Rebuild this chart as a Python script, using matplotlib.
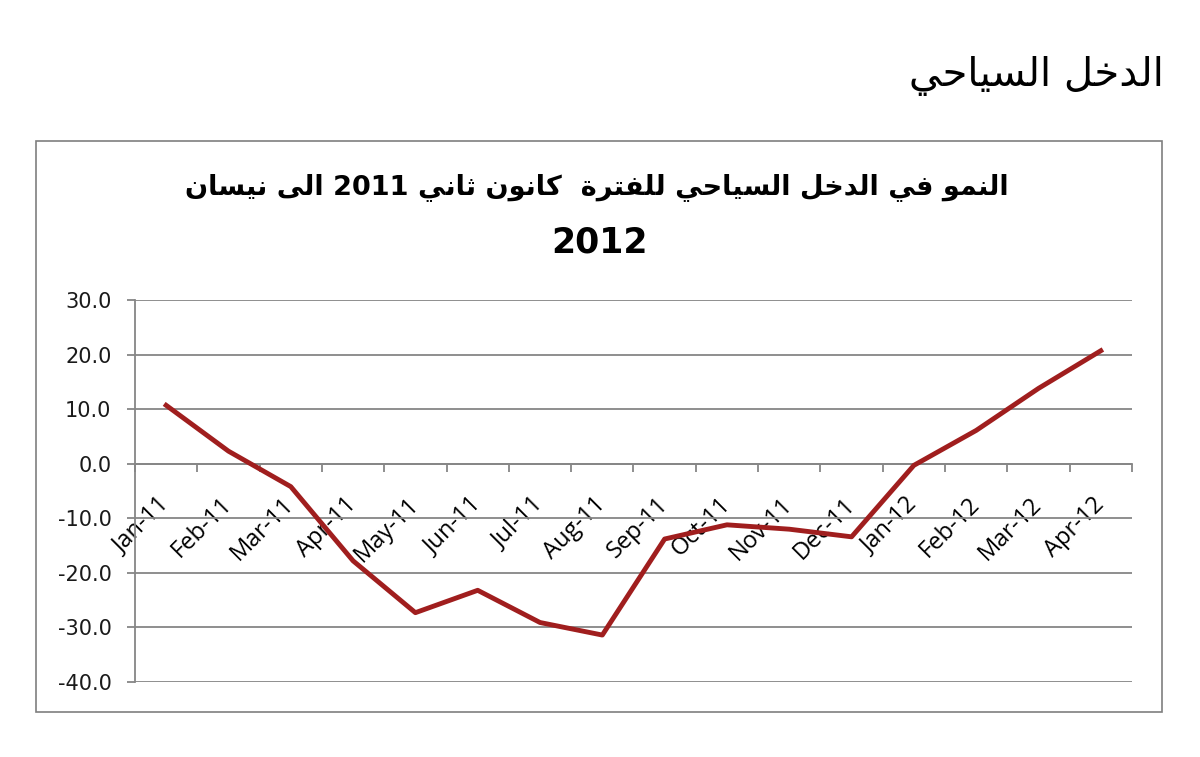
import re
import numpy as np
import matplotlib
matplotlib.use('Agg')
import matplotlib.pyplot as plt
from matplotlib.patches import Rectangle
from matplotlib.ticker import FormatStrFormatter

heading = 'الدخل السياحي'
title_line1 = 'النمو في الدخل السياحي للفترة  كانون ثاني 2011 الى نيسان'
title_line2 = '2012'

months = ['Jan-11', 'Feb-11', 'Mar-11', 'Apr-11', 'May-11', 'Jun-11', 'Jul-11', 'Aug-11',
          'Sep-11', 'Oct-11', 'Nov-11', 'Dec-11', 'Jan-12', 'Feb-12', 'Mar-12', 'Apr-12']
growth = [10.7, 2.3, -4.2, -17.8, -27.3, -23.2, -29.1, -31.4,
          -13.8, -11.2, -12.0, -13.4, -0.3, 6.1, 13.8, 20.7]

# Arabic presentation forms (isolated, final, initial, medial); 2-tuples join only to the right
FORMS = {
    'ا': (0xFE8D, 0xFE8E),
    'ة': (0xFE93, 0xFE94),
    'ت': (0xFE95, 0xFE96, 0xFE97, 0xFE98),
    'ث': (0xFE99, 0xFE9A, 0xFE9B, 0xFE9C),
    'ح': (0xFEA1, 0xFEA2, 0xFEA3, 0xFEA4),
    'خ': (0xFEA5, 0xFEA6, 0xFEA7, 0xFEA8),
    'د': (0xFEA9, 0xFEAA),
    'ر': (0xFEAD, 0xFEAE),
    'س': (0xFEB1, 0xFEB2, 0xFEB3, 0xFEB4),
    'ف': (0xFED1, 0xFED2, 0xFED3, 0xFED4),
    'ك': (0xFED9, 0xFEDA, 0xFEDB, 0xFEDC),
    'ل': (0xFEDD, 0xFEDE, 0xFEDF, 0xFEE0),
    'م': (0xFEE1, 0xFEE2, 0xFEE3, 0xFEE4),
    'ن': (0xFEE5, 0xFEE6, 0xFEE7, 0xFEE8),
    'و': (0xFEED, 0xFEEE),
    'ى': (0xFEEF, 0xFEF0),
    'ي': (0xFEF1, 0xFEF2, 0xFEF3, 0xFEF4),
}


def shape(s):
    out = []
    for i, ch in enumerate(s):
        f = FORMS.get(ch)
        if f is None:
            out.append(ch)
            continue
        prev = s[i - 1] if i > 0 else ''
        nxt = s[i + 1] if i + 1 < len(s) else ''
        jp = prev in FORMS and len(FORMS[prev]) == 4
        jn = len(f) == 4 and nxt in FORMS
        if jp and jn:
            cp = f[3]
        elif jp:
            cp = f[1]
        elif jn:
            cp = f[2]
        else:
            cp = f[0]
        out.append(chr(cp))
    vis = ''.join(out)[::-1]
    return re.sub(r'\d+', lambda m: m.group(0)[::-1], vis)


fig = plt.figure(figsize=(12, 7.57), dpi=100)

fig.text(0.970, 0.899, shape(heading), ha='right', va='center',
         fontsize=29, family='DejaVu Sans', color='black')

fig.patches.append(Rectangle((0.03, 0.0594), 0.9383, 0.7543, transform=fig.transFigure,
                             fill=False, edgecolor='#7f7f7f', linewidth=1.2))

fig.text(0.4975, 0.753, shape(title_line1), ha='center', va='center',
         fontsize=19.5, fontweight='bold', family='DejaVu Sans')
fig.text(0.5, 0.680, title_line2, ha='center', va='center',
         fontsize=25, fontweight='bold', family='DejaVu Sans')

ax = fig.add_axes([0.1125, 0.0991, 0.8308, 0.5046])
x = np.arange(len(months))
ax.plot(x, growth, color='#A01E1E', linewidth=3.5, zorder=3)

ax.set_xlim(-0.5, len(months) - 0.5)
ax.set_ylim(-40, 30)
ax.set_yticks(np.arange(-40, 31, 10))
ax.yaxis.set_major_formatter(FormatStrFormatter('%.1f'))
ax.yaxis.grid(True, color='#868686', linewidth=1.3)
ax.set_axisbelow(True)

for side in ['top', 'right']:
    ax.spines[side].set_visible(False)
ax.spines['left'].set_color('#868686')
ax.spines['left'].set_linewidth(1.3)
ax.spines['bottom'].set_position(('data', 0))
ax.spines['bottom'].set_color('#868686')
ax.spines['bottom'].set_linewidth(1.3)

ax.set_xticks(x)
ax.set_xticks(np.arange(-0.5, len(months), 1), minor=True)
ax.set_xticklabels(months, rotation=45, ha='right', va='center', rotation_mode='anchor',
                   fontsize=17, family='Open Sans')
ax.tick_params(axis='x', which='major', length=0, pad=27)
ax.tick_params(axis='x', which='minor', length=6, width=1.3, color='#868686', direction='out')
ax.tick_params(axis='y', length=6, width=1.3, color='#868686', labelsize=15, pad=11)
for lab in ax.get_yticklabels():
    lab.set_family('DejaVu Sans')
    lab.set_color('#1a1a1a')

fig.savefig('out.png', dpi=100)
